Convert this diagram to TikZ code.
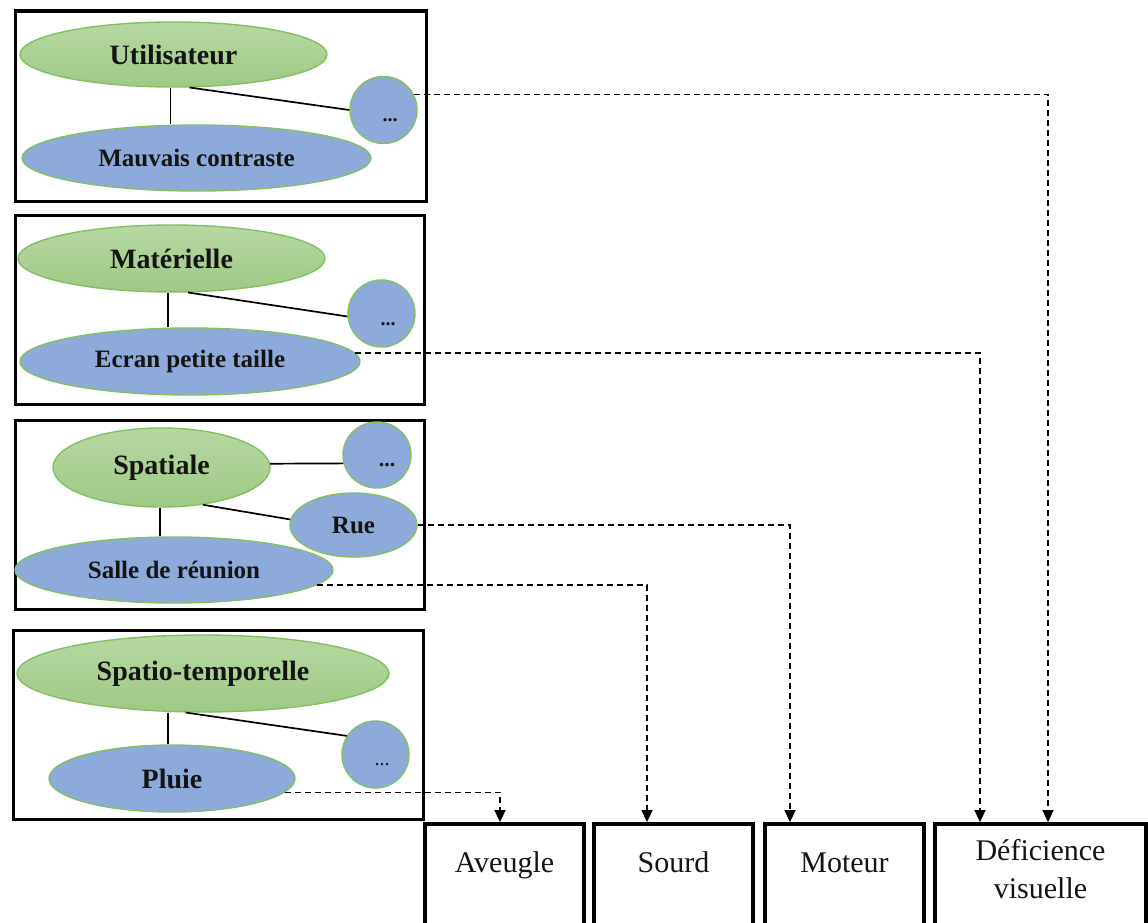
\documentclass[tikz,border=0pt]{standalone}
\usepackage{fontspec}
\setmainfont{Liberation Serif}
\usetikzlibrary{shapes.geometric,arrows.meta}

\definecolor{leafTop}{HTML}{B6D8A3}
\definecolor{leafBot}{HTML}{9FC985}
\definecolor{leafEdge}{HTML}{84BF62}
\definecolor{skyFill}{HTML}{8EAADB}
\definecolor{inkDark}{HTML}{141414}

% three dots shifted inside a circle: #1 = twice the right shift, #2 = drop
\newcommand\ofsdots[2]{\raisebox{-#2}[0pt][0pt]{\makebox[0pt]{\hspace*{#1}...}}}

\tikzset{
  panel/.style={rectangle, draw=black, line width=3.8pt, inner sep=0pt, anchor=north west},
  mainellipse/.style={ellipse, draw=leafEdge, line width=1.4pt, top color=leafTop,
    bottom color=leafBot, inner sep=0pt, text=inkDark, font=\bfseries\fontsize{28}{30}\selectfont},
  subellipse/.style={ellipse, draw=leafEdge, line width=1.4pt, fill=skyFill,
    inner sep=0pt, text=inkDark, font=\bfseries\fontsize{25}{28}\selectfont},
  dotcircle/.style={subellipse, font=\bfseries\fontsize{20}{22}\selectfont},
  link/.style={draw=black, line width=1.7pt},
  dashlink/.style={draw=black, line width=1.6pt, dash pattern=on 6pt off 4pt,
    -{Triangle[length=12pt,width=11pt]}},
  catbox/.style={rectangle, draw=black, line width=3.8pt, inner sep=0pt,
    minimum width=159pt, anchor=base, text=inkDark, font=\fontsize{30}{38}\selectfont}
}

\begin{document}
\begin{tikzpicture}[x=1pt,y=-1pt]
\useasboundingbox (0,0) rectangle (1148,923);

% ---- context panels ----
\node[panel, minimum width=411pt, minimum height=190pt] (p1) at (13.5,9.5) {};
\node[panel, minimum width=409pt, minimum height=189pt] (p2) at (13.5,213.5) {};
\node[panel, minimum width=409pt, minimum height=189pt] (p3) at (13.5,418.5) {};
\node[panel, minimum width=410pt, minimum height=189pt] (p4) at (11.5,628.5) {};

% panel 1 : user
\node[mainellipse, minimum width=307pt, minimum height=65pt] (util) at (173.5,54.5) {Utilisateur};
\node[subellipse, minimum width=349pt, minimum height=66pt] (mauv) at (196.5,158) {Mauvais contraste};
\node[dotcircle, minimum width=67pt, minimum height=67pt] (c1) at (383.5,110) {\ofsdots{13pt}{12pt}};

% panel 2 : hardware
\node[mainellipse, minimum width=307pt, minimum height=67pt] (mat) at (171.5,258.5) {Matérielle};
\node[subellipse, minimum width=340pt, minimum height=67pt] (ecran) at (190,361.5) {Ecran petite taille};
\node[dotcircle, minimum width=67pt, minimum height=67pt] (c2) at (381.5,313.5) {\ofsdots{13pt}{12pt}};

% panel 3 : spatial
\node[mainellipse, minimum width=217pt, minimum height=79pt] (spat) at (161.5,467.5) {Spatiale};
\node[dotcircle, minimum width=68pt, minimum height=66pt, font=\bfseries\fontsize{22}{24}\selectfont] (c3) at (377,455) {\ofsdots{20pt}{11pt}};
\node[subellipse, minimum width=127pt, minimum height=64pt] (rue) at (353.5,525) {Rue};
\node[subellipse, minimum width=318pt, minimum height=66pt] (salle) at (174,570) {Salle de réunion};

% panel 4 : spatio-temporal
\node[mainellipse, minimum width=372pt, minimum height=77pt] (st) at (203,673.5) {Spatio-temporelle};
\node[subellipse, minimum width=246pt, minimum height=67pt, font=\bfseries\fontsize{28}{30}\selectfont] (pluie) at (172,778.5) {Pluie};
\node[dotcircle, minimum width=67pt, minimum height=67pt, font=\fontsize{20}{22}\selectfont] (c4) at (375.5,754.5) {\ofsdots{13pt}{11pt}};

% ---- impairment boxes ----
\node[catbox, text height=48pt, text depth=62pt] (avg) at (504.5,872) {Aveugle};
\node[catbox, text height=48pt, text depth=62pt] (sourd) at (673.5,872) {Sourd};
\node[catbox, text height=48pt, text depth=62pt] (mot) at (844.5,872) {Moteur};
\node[catbox, minimum width=211pt, text height=36pt, text depth=74pt] (def) at (1040.5,860)
  {\begin{tabular}[t]{@{}c@{}}Déficience\\visuelle\end{tabular}};

% ---- links inside the panels ----
\draw[link] ([xshift=-3pt]util.south) -- ([xshift=-3pt]util.south |- mauv.north);
\draw[link] (util.-64) -- (c1.west);

\draw[link] ([xshift=-3.5pt]mat.south) -- ([xshift=-3.5pt]mat.south |- ecran.north);
\draw[link] (mat.-64) -- (c2.185);

\draw[link] ([xshift=-1.5pt]spat.south) -- ([xshift=-1.5pt]spat.south |- salle.north);
\draw[link] (spat.2.4) -- (c3.194);
\draw[link] (spat.-42) -- (rue.175);

\draw[link] ([xshift=-4pt]pluie.north) -- ([xshift=-4pt]pluie.north |- st.south);
\draw[link] (st.-114) -- (c4.147);

% ---- dashed links to the impairments ----
\draw[dashlink] (c1.27) -| ([xshift=7.5pt]def.north);
\draw[dashlink] (ecran.3) -| ([xshift=-60.5pt]def.north);
\draw[dashlink] (rue.east) -| ([xshift=-54.5pt]mot.north);
\draw[dashlink] (salle.-6) -| ([xshift=-26.5pt]sourd.north);
\draw[dashlink] (pluie.-7) -| ([xshift=-4.5pt]avg.north);
\end{tikzpicture}
\end{document}
